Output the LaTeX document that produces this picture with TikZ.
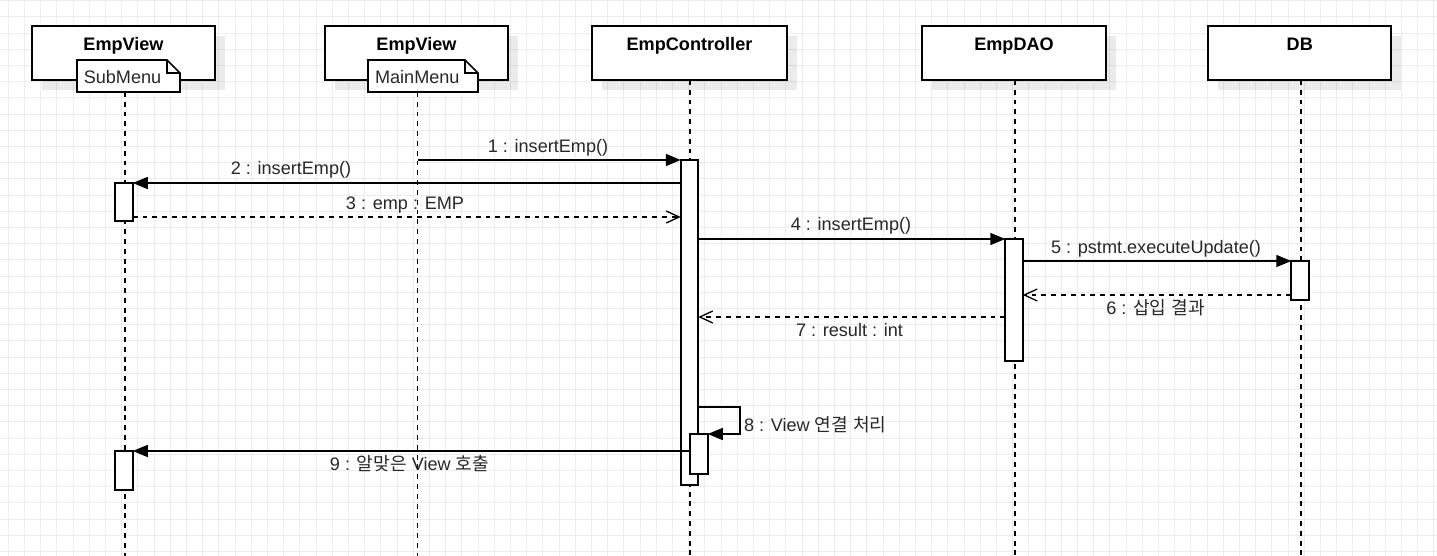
\documentclass[tikz,border=0pt]{standalone}
\usepackage{fontspec}
\setmainfont{Liberation Sans}
\newfontfamily\krfont{Noto Sans CJK KR}
\usetikzlibrary{arrows.meta,calc,shadows}
\definecolor{gridc}{RGB}{236,236,236}
\definecolor{txtc}{RGB}{40,40,40}
\begin{document}
\begin{tikzpicture}[x=1pt,y=-1pt,
  every node/.style={font=\fontsize{18.1}{21}\selectfont, inner sep=0pt, outer sep=0pt},
  gridline/.style={draw=gridc, line width=1pt},
  headbox/.style={rectangle, draw, line width=1.7pt, fill=white, minimum height=54pt,
    drop shadow={shadow xshift=10pt, shadow yshift=-10pt, fill=black, opacity=0.08}},
  hdr/.style={anchor=base, font=\fontsize{18.1}{21}\selectfont\bfseries, text=black},
  notebox/.style={rectangle, minimum height=32pt, fill=white},
  noteline/.style={draw, line width=1.7pt},
  lbl/.style={anchor=base, text=txtc},
  lifeline/.style={draw, line width=1.5pt, dash pattern=on 4.9pt off 4.9pt},
  act/.style={rectangle, draw, line width=1.7pt, fill=white, minimum width=17.5pt},
  msg/.style={draw, line width=1.5pt, -{Triangle[length=15pt,width=12pt]}},
  ret/.style={draw, line width=1.5pt, dash pattern=on 4.9pt off 4.9pt,
    -{Straight Barb[length=13pt,width=12pt,line width=1.3pt]}}
]
\useasboundingbox (0,0) rectangle (1437,556);
\fill[white] (0,0) rectangle (1437,556);
% grid
\foreach \i in {0,...,88} {\draw[gridline] ({8.3+16.2*\i},0) -- ({8.3+16.2*\i},556);}
\foreach \j in {0,...,34} {\draw[gridline] (0,{0.7+16.2*\j}) -- (1437,{0.7+16.2*\j});}

% head boxes
\node[headbox, minimum width=183pt] (h1) at (123.5,53) {};
\node[headbox, minimum width=183pt] (h2) at (416.5,53) {};
\node[headbox, minimum width=195pt] (h3) at (689.5,53) {};
\node[headbox, minimum width=184pt] (h4) at (1014,53) {};
\node[headbox, minimum width=183pt] (h5) at (1299.5,53) {};
\node[hdr] (t1) at (123.5,50.7) {EmpView};
\node[hdr] (t2) at (416.5,50.7) {EmpView};
\node[hdr] (t3) at (689.5,50.7) {EmpController};
\node[hdr] (t4) at (1014,50.7) {EmpDAO};
\node[hdr] (t5) at (1299.8,50.7) {DB};

% notes
\node[notebox, minimum width=103pt] (n1) at (128.5,76) {};
\draw[noteline] (n1.south west) -- (n1.north west) -- ($(n1.north east)+(-13,0)$)
  -- ($(n1.north east)+(0,13)$) -- (n1.south east) -- cycle;
\draw[noteline] ($(n1.north east)+(-13,0)$) -- ($(n1.north east)+(-13,13)$) -- ($(n1.north east)+(0,13)$);
\node[lbl] (nt1) at (122.5,83.3) {SubMenu};
\node[notebox, minimum width=110pt] (n2) at (423,76) {};
\draw[noteline] (n2.south west) -- (n2.north west) -- ($(n2.north east)+(-13,0)$)
  -- ($(n2.north east)+(0,13)$) -- (n2.south east) -- cycle;
\draw[noteline] ($(n2.north east)+(-13,0)$) -- ($(n2.north east)+(-13,13)$) -- ($(n2.north east)+(0,13)$);
\node[lbl] (nt2) at (417.3,83.3) {MainMenu};

% lifelines
\coordinate (e1) at (125,556);
\coordinate (e2) at (417.5,556);
\coordinate (e3) at (690,556);
\coordinate (e4) at (1015,556);
\coordinate (e5) at (1301,556);
\draw[lifeline] (n1.south -| e1) -- (e1);
\draw[lifeline] (n2.south -| e2) -- (e2);
\draw[lifeline] (h3.south -| e3) -- (e3);
\draw[lifeline] (h4.south -| e4) -- (e4);
\draw[lifeline] (h5.south -| e5) -- (e5);

% activation bars
\node[act, minimum height=325pt] (aC) at (689.5,322.5) {};
\node[act, minimum height=38pt] (aS1) at (124,202) {};
\node[act, minimum height=39pt] (aS2) at (124,470.5) {};
\node[act, minimum height=122pt] (aD) at (1014,300) {};
\node[act, minimum height=39pt] (aB) at (1300,280.5) {};
\node[act, minimum height=40pt] (aN) at (699,454) {};

% messages
\draw[msg] (aC.north west -| e2) -- (aC.north west);
\draw[msg] (aS1.north east -| aC.west) -- (aS1.north east);
\draw[ret] ($(aS1.south east)+(0,-4)$) -- ($(aS1.south east -| aC.west)+(0,-4)$);
\draw[msg] (aD.north west -| aC.east) -- (aD.north west);
\draw[msg] (aB.north west -| aD.east) -- (aB.north west);
\draw[ret] ($(aB.south west)+(0,-5)$) -- ($(aB.south west -| aD.east)+(0,-5)$);
\draw[ret] ($(aD.west)+(0,17)$) -- ($(aD.west -| aC.east)+(0,17)$);
\coordinate (s8) at (740,420);
\draw[msg] ($(aN.north -| aC.east)+(0,-27)$) -| (s8) |- (aN.north east);
\draw[msg] (aS2.north east -| aN.west) -- (aS2.north east);

% labels
\node[lbl] (l1) at (548,152.7) {1 : insertEmp()};
\node[lbl] (l2) at (291,174.5) {2 : insertEmp()};
\node[lbl] (l3) at (405,209.3) {3 : emp : EMP};
\node[lbl] (l4) at (851,230.7) {4 : insertEmp()};
\node[lbl] (l5) at (1156,253.3) {5 : pstmt.executeUpdate()};
\node[lbl] (l6) at (1155.5,314) {6 : {\krfont 삽입} {\krfont 결과}};
\node[lbl] (l7) at (849.5,336.7) {7 : result : int};
\node[lbl, anchor=base west] (l8) at (744,431.7) {8 : View {\krfont 연결} {\krfont 처리}};
\node[lbl] (l9) at (409.5,470.7) {9 : {\krfont 알맞은} View {\krfont 호출}};
\end{tikzpicture}
\end{document}
